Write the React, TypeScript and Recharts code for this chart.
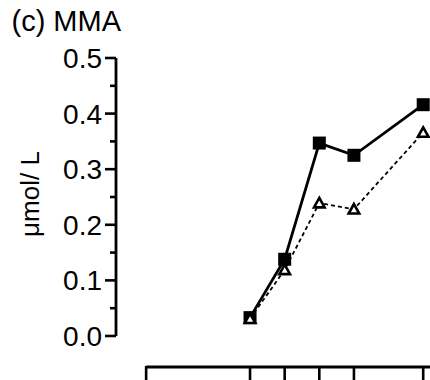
import React from 'react';
import { LineChart, Line, XAxis, YAxis, ReferenceLine } from 'recharts';

const xValues = [3, 4, 5, 6, 8];
const filledSquares = [0.033, 0.138, 0.347, 0.325, 0.416];
const openTriangles = [0.031, 0.119, 0.239, 0.228, 0.366];
const xTicks = [0, 3, 4, 5, 6, 8];
const yTicks = [0, 0.05, 0.1, 0.15, 0.2, 0.25, 0.3, 0.35, 0.4, 0.45, 0.5];
const titleText = '(c) MMA';
const yLabelText = 'μmol/ L';

const data = xValues.map((x, i) => ({ x, filled: filledSquares[i], open: openTriangles[i] }));

const X_MIN = -0.87;
const X_MAX = 9.12;
const Y_MIN = -0.0558;
const Y_MAX = 0.5;
const FONT = '"Liberation Sans", Arial, Helvetica, sans-serif';

const SquareDot = (props: any) => {
  const { cx, cy } = props;
  if (cx == null || cy == null) return null;
  return <rect x={cx - 6.5} y={cy - 6.5} width={13} height={13} fill="#000" />;
};

const TriangleDot = (props: any) => {
  const { cx, cy } = props;
  if (cx == null || cy == null) return null;
  return (
    <polygon
      points={`${cx},${cy - 5.2} ${cx + 5.3},${cy + 4.3} ${cx - 5.3},${cy + 4.3}`}
      fill="#fff"
      stroke="#000"
      strokeWidth={2.6}
    />
  );
};

const YTick = (props: any) => {
  const { x, y, payload } = props;
  const v = payload.value as number;
  const major = Math.abs(v * 10 - Math.round(v * 10)) < 1e-6;
  const axisX = x + 14;
  return (
    <g>
      <line x1={axisX - (major ? 11 : 6)} x2={axisX} y1={y} y2={y} stroke="#000" strokeWidth={2.6} />
      {major && (
        <text x={x} y={y} dy="0.355em" textAnchor="end" fontSize={28} fontFamily={FONT} fill="#000">
          {v.toFixed(1)}
        </text>
      )}
    </g>
  );
};

const XTick = (props: any) => {
  const { x, y } = props;
  return <line x1={x} x2={x} y1={y - 1} y2={y + 20} stroke="#000" strokeWidth={2.6} />;
};

export default function App() {
  return (
    <div style={{ position: 'absolute', left: 0, top: 0, width: 430, height: 380, overflow: 'hidden', background: '#fff' }}>
      <LineChart width={462} height={420} data={data} margin={{ top: 58, right: 0, bottom: 23, left: 0 }}>
        <XAxis
          type="number"
          dataKey="x"
          domain={[X_MIN, X_MAX]}
          allowDataOverflow
          ticks={xTicks}
          interval={0}
          tick={<XTick />}
          tickSize={0}
          tickMargin={0}
          tickLine={false}
          axisLine={false}
          height={30}
        />
        <YAxis
          type="number"
          domain={[Y_MIN, Y_MAX]}
          allowDataOverflow
          ticks={yTicks}
          interval={0}
          width={116}
          tickSize={11}
          tickMargin={3}
          tickLine={false}
          axisLine={false}
          tick={<YTick />}
        />
        <ReferenceLine
          segment={[{ x: 0, y: Y_MIN }, { x: X_MAX, y: Y_MIN }]}
          stroke="#000"
          strokeWidth={2.8}
          ifOverflow="visible"
        />
        <ReferenceLine
          segment={[{ x: X_MIN, y: 0 }, { x: X_MIN, y: Y_MAX }]}
          stroke="#000"
          strokeWidth={2.8}
          ifOverflow="visible"
        />
        <Line
          dataKey="filled"
          stroke="#000"
          strokeWidth={2.8}
          dot={<SquareDot />}
          activeDot={false}
          isAnimationActive={false}
        />
        <Line
          dataKey="open"
          stroke="#000"
          strokeWidth={1.8}
          strokeDasharray="4 3"
          dot={<TriangleDot />}
          activeDot={false}
          isAnimationActive={false}
        />
      </LineChart>
      <svg width={430} height={380} style={{ position: 'absolute', left: 0, top: 0, pointerEvents: 'none' }}>
        <text x={11.5} y={31} fontSize={29} fontFamily={FONT} fill="#000">
          {titleText}
        </text>
        <text
          x={39}
          y={194}
          fontSize={26}
          fontFamily={FONT}
          fill="#000"
          textAnchor="middle"
          transform="rotate(-90 39 194)"
        >
          {yLabelText}
        </text>
      </svg>
    </div>
  );
}
